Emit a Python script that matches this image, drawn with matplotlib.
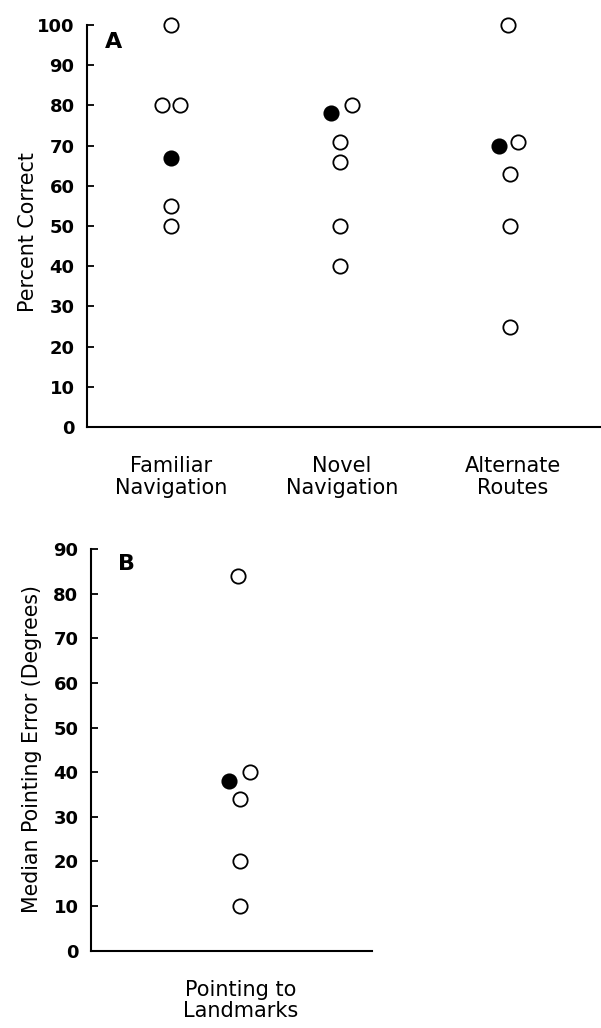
import matplotlib
matplotlib.use("Agg")
import matplotlib.pyplot as plt

plt.rcParams['font.family'] = ['DejaVu Sans']

# Panel A data
categories_a = ["Familiar\nNavigation", "Novel\nNavigation", "Alternate\nRoutes"]
open_a = [
    [100, 80, 80, 55, 50],
    [80, 71, 66, 50, 40],
    [100, 71, 63, 50, 25],
]
open_a_jitter = [
    [0.0, -0.05, 0.05, 0.0, 0.0],
    [0.056, -0.01, -0.01, -0.01, -0.01],
    [-0.03, 0.03, -0.02, -0.02, -0.02],
]
filled_a = [67, 78, 70]
filled_a_jitter = [0.0, -0.066, -0.08]
yticks_a = list(range(0, 101, 10))

# Panel B data
categories_b = ["Pointing to\nLandmarks"]
open_b = [84, 40, 34, 20, 10]
open_b_jitter = [-0.02, 0.05, -0.005, -0.005, -0.005]
filled_b = [38]
filled_b_jitter = [-0.07]
yticks_b = list(range(0, 91, 10))

fig = plt.figure(figsize=(6.01, 10.28), dpi=100)

ms = 10.3
mew = 1.3

def style(ax):
    for s in ["top", "right"]:
        ax.spines[s].set_visible(False)
    for s in ["left", "bottom"]:
        ax.spines[s].set_linewidth(1.5)
    ax.tick_params(axis="y", direction="in", length=5, width=1.3, pad=9,
                   labelsize=13)
    ax.tick_params(axis="x", length=0, pad=21, labelsize=15)
    for lab in ax.get_yticklabels():
        lab.set_fontweight("bold")

# Panel A
axA = fig.add_axes([0.1448, 0.5846, 0.8552, 0.3911])
for i, (vals, jit) in enumerate(zip(open_a, open_a_jitter)):
    xs = [i + 1 + j for j in jit]
    axA.plot(xs, vals, "o", ms=ms, mfc="white", mec="black", mew=mew,
             clip_on=False, zorder=3)
axA.plot([i + 1 + j for i, j in enumerate(filled_a_jitter)], filled_a, "o",
         ms=ms, mfc="black", mec="black", mew=mew, clip_on=False, zorder=3)
axA.set_xlim(0.509, 3.515)
axA.set_ylim(0, 100)
axA.set_yticks(yticks_a)
axA.set_xticks([1, 2, 3])
axA.set_xticklabels(categories_a, linespacing=1.1)
axA.set_ylabel("Percent Correct", fontsize=14.9, fontweight="medium")
axA.yaxis.set_label_coords(-0.095, 0.485)
style(axA)
fig.text(114 / 601, 1 - 42 / 1028, "A", fontsize=16, fontweight="bold",
         va="center", ha="center")

# Panel B
axB = fig.add_axes([0.1514, 0.0752, 0.4676, 0.3908])
axB.plot([1 + j for j in open_b_jitter], open_b, "o", ms=ms, mfc="white",
         mec="black", mew=mew, clip_on=False, zorder=3)
axB.plot([1 + j for j in filled_b_jitter], filled_b, "o", ms=ms,
         mfc="black", mec="black", mew=mew, clip_on=False, zorder=3)
axB.set_xlim(0.123, 1.766)
axB.set_ylim(0, 90)
axB.set_yticks(yticks_b)
axB.set_xticks([1])
axB.set_xticklabels(categories_b, linespacing=1.1)
axB.set_ylabel("Median Pointing Error (Degrees)", fontsize=14.8)
axB.yaxis.set_label_coords(-0.174, 0.502)
style(axB)
fig.text(126 / 601, 1 - 564 / 1028, "B", fontsize=16, fontweight="bold",
         va="center", ha="center")

fig.savefig("out.png", dpi=100)
